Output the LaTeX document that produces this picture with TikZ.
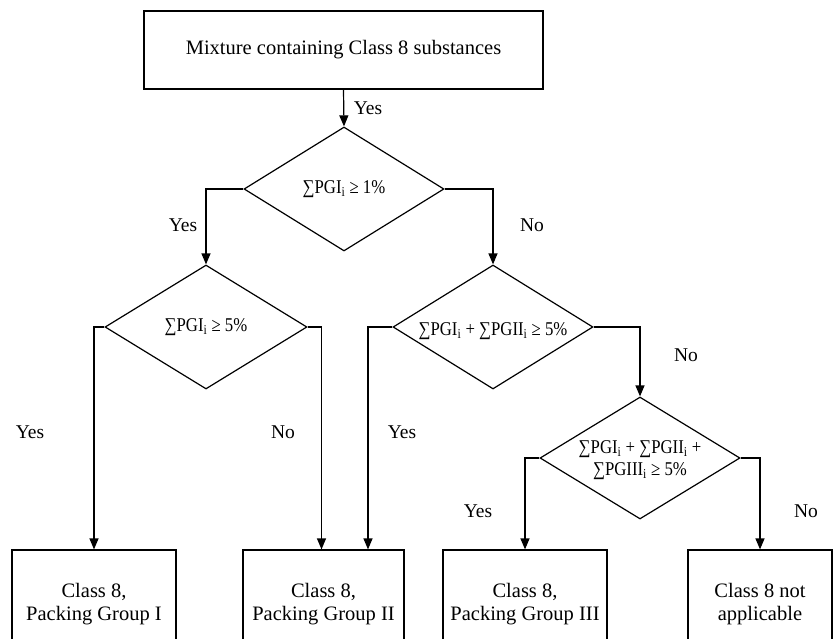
\documentclass[tikz,border=0pt]{standalone}
\usepackage{fontspec}
\setmainfont{Liberation Serif}
\newfontfamily\narrowserif[FakeStretch=0.86]{Liberation Serif}
\usetikzlibrary{shapes.geometric,arrows.meta}
\begin{document}
\begin{tikzpicture}[x=1pt,y=-1pt,
  line width=1.2pt,
  txt/.style={font=\fontsize{20.5}{23.5}\selectfont},
  box/.style={draw, rectangle, inner sep=0pt, align=center, txt},
  decision/.style={draw, diamond, inner sep=0pt},
  dtext/.style={align=center, font=\narrowserif\fontsize{19.5}{21.5}\selectfont},
  arr/.style={-{Triangle[length=11pt,width=9pt]}},
  lbl/.style={font=\fontsize{19.5}{22}\selectfont, inner sep=0pt}]
\useasboundingbox (0,0) rectangle (840,639);
\clip (0,0) rectangle (840,639);

% start box
\node[box, minimum width=399pt, minimum height=78pt] (top) at (343.5,50)
  {Mixture containing Class 8 substances};

% decisions
\node[decision, minimum width=200pt, minimum height=124pt] (d1) at (344,189) {};
\node[dtext] (t1) at (d1) {∑PGI\textsubscript{i} ≥ 1\%};

\node[decision, minimum width=202pt, minimum height=124pt] (d2) at (206,327) {};
\node[dtext] (t2) at (d2) {∑PGI\textsubscript{i} ≥ 5\%};

\node[decision, minimum width=200pt, minimum height=124pt] (d3) at (493,327) {};
\node[dtext] (t3) at ([yshift=-4pt]d3) {∑PGI\textsubscript{i} + ∑PGII\textsubscript{i} ≥ 5\%};

\node[decision, minimum width=200pt, minimum height=122pt] (d4) at (640,458) {};
\node[dtext] (t4) at ([yshift=-2pt]d4) {∑PGI\textsubscript{i} + ∑PGII\textsubscript{i} +\\∑PGIII\textsubscript{i} ≥ 5\%};

% outcomes
\node[box, minimum width=164pt, minimum height=108pt] (b1) at (94,604)
  {Class 8,\\Packing Group I};
\node[box, minimum width=161pt, minimum height=108pt] (b2) at (323.5,604)
  {Class 8,\\Packing Group II};
\node[box, minimum width=164pt, minimum height=108pt] (b3) at (525,604)
  {Class 8,\\Packing Group III};
\node[box, minimum width=144pt, minimum height=108pt] (b4) at (760,604)
  {Class 8 not\\applicable};

% connectors
\draw[arr] (top.south) -- (d1.north);
\draw[arr] (d1.west) -| (d2.north);
\draw[arr] (d1.east) -| (d3.north);
\draw[arr] (d2.west) -| (b1.north);
\draw[arr] (d2.east) -| ([xshift=-2pt]b2.north);
\draw[arr] (d3.west) -| ([xshift=44.5pt]b2.north);
\draw[arr] (d3.east) -| (d4.north);
\draw[arr] (d4.west) -| (b3.north);
\draw[arr] (d4.east) -| (b4.north);

% branch labels
\node[lbl] (l0) at (368,108) {Yes};
\node[lbl] (l1) at (183,225) {Yes};
\node[lbl] (l2) at (532,225) {No};
\node[lbl] (l3) at (30,432) {Yes};
\node[lbl] (l4) at (283,432) {No};
\node[lbl] (l5) at (402,432) {Yes};
\node[lbl] (l6) at (686,355) {No};
\node[lbl] (l7) at (478,511) {Yes};
\node[lbl] (l8) at (806,511) {No};
\end{tikzpicture}
\end{document}
